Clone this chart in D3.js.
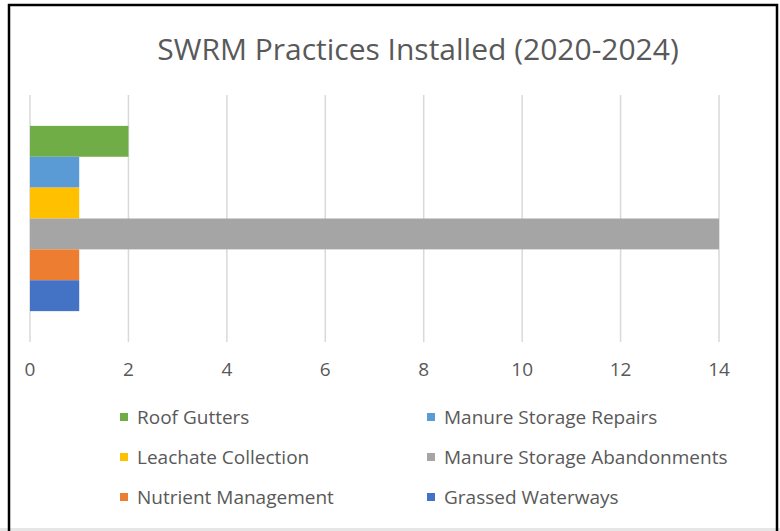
<!DOCTYPE html>
<html>
<head>
<meta charset="utf-8">
<script src="https://cdn.jsdelivr.net/npm/d3@7"></script>
<style>
    body { margin: 0; background: #fff; }
    #chart { width: 780px; height: 531px; }
    text { font-family: "Open Sans", "Noto Sans", sans-serif; fill: #595959; }
</style>
</head>
<body>
<div id="chart"></div>
<script>

// series (one bar each), top to bottom as in the legend
let seriesNames = ["Roof Gutters", "Manure Storage Repairs", "Leachate Collection",
    "Manure Storage Abandonments", "Nutrient Management", "Grassed Waterways"];
let seriesValues = [2, 1, 1, 14, 1, 1];
let seriesColors = ["#70AD47", "#5B9BD5", "#FFC000", "#A5A5A5", "#ED7D31", "#4472C4"];
let xTicks = [0, 2, 4, 6, 8, 10, 12, 14];
let chartTitle = "SWRM Practices Installed (2020-2024)";

class PracticesBarVis {

    constructor(parentElement) {
        this.parentElement = parentElement;
        this.initVis();
    }

    initVis() {
        let vis = this;

        vis.width = 780;
        vis.height = 531;

        // plot area
        vis.plot = {left: 30, right: 719, top: 95, bottom: 342};

        vis.svg = d3.select("#" + vis.parentElement)
            .append("svg")
            .attr("width", vis.width)
            .attr("height", vis.height);

        // outer frame
        vis.svg.append("rect")
            .attr("x", 0).attr("y", 528)
            .attr("width", vis.width).attr("height", 3)
            .attr("fill", "#e6e6e6");
        vis.svg.append("rect")
            .attr("x", 9).attr("y", 5)
            .attr("width", 768).attr("height", 530)
            .attr("fill", "none")
            .attr("stroke", "#000")
            .attr("stroke-width", 2.5);

        vis.x = d3.scaleLinear()
            .domain([0, 14])
            .range([vis.plot.left, vis.plot.right]);

        vis.y = d3.scaleBand()
            .domain(seriesNames)
            .range([vis.plot.top, vis.plot.bottom])
            .paddingInner(0)
            .paddingOuter(1.0);

        vis.drawTitle();
        vis.drawGrid();
        vis.drawBars();
        vis.drawLegend();
    }

    drawTitle() {
        let vis = this;
        vis.svg.append("text")
            .attr("x", 418)
            .attr("y", 60)
            .attr("text-anchor", "middle")
            .style("font-size", "30px")
            .text(chartTitle);
    }

    drawGrid() {
        let vis = this;

        vis.svg.selectAll(".grid")
            .data(xTicks)
            .enter()
            .append("line")
            .attr("class", "grid")
            .attr("x1", d => vis.x(d))
            .attr("x2", d => vis.x(d))
            .attr("y1", vis.plot.top)
            .attr("y2", vis.plot.bottom)
            .attr("stroke", "#d9d9d9")
            .attr("stroke-width", 1.5);

        vis.svg.selectAll(".tick-label")
            .data(xTicks)
            .enter()
            .append("text")
            .attr("class", "tick-label")
            .attr("x", d => vis.x(d))
            .attr("y", 376)
            .attr("text-anchor", "middle")
            .style("font-size", "19px")
            .text(d => d);
    }

    drawBars() {
        let vis = this;

        vis.svg.selectAll(".bar")
            .data(seriesNames)
            .enter()
            .append("rect")
            .attr("class", "bar")
            .attr("x", vis.x(0))
            .attr("y", d => vis.y(d))
            .attr("width", (d, i) => vis.x(seriesValues[i]) - vis.x(0))
            .attr("height", vis.y.bandwidth())
            .attr("fill", (d, i) => seriesColors[i]);
    }

    drawLegend() {
        let vis = this;

        // two columns, three rows
        let colX = [120, 427];
        let rowY = [417, 457, 497];

        let items = vis.svg.selectAll(".legend-item")
            .data(seriesNames)
            .enter()
            .append("g")
            .attr("class", "legend-item")
            .attr("transform", (d, i) => `translate(${colX[i % 2]},${rowY[Math.floor(i / 2)]})`);

        items.append("rect")
            .attr("x", 0)
            .attr("y", -4)
            .attr("width", 8)
            .attr("height", 8)
            .attr("fill", (d, i) => seriesColors[i]);

        items.append("text")
            .attr("x", 17)
            .attr("y", 7)
            .style("font-size", "19px")
            .text(d => d);
    }
}

new PracticesBarVis("chart");

</script>
</body>
</html>
